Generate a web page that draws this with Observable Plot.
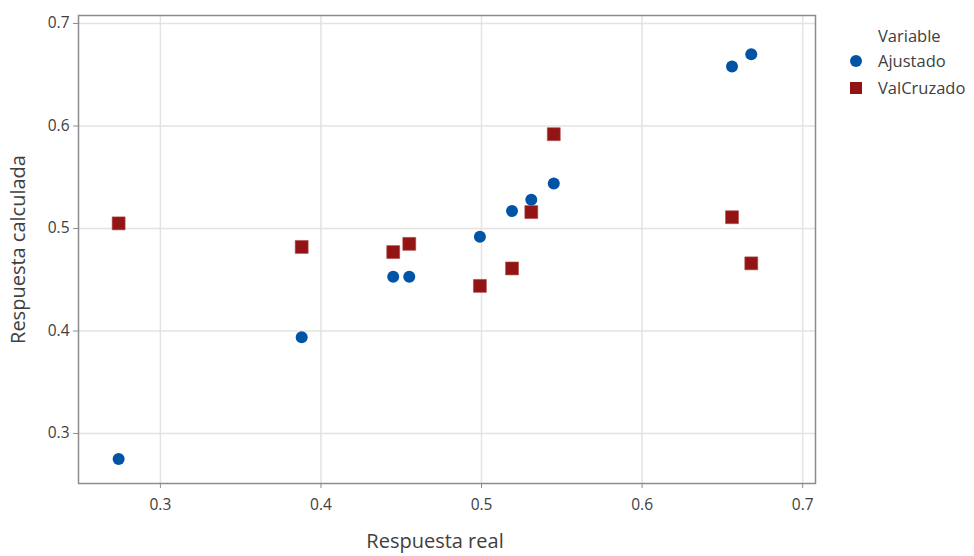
<!DOCTYPE html>
<html>
<head>
<meta charset="utf-8">
<script src="https://cdn.jsdelivr.net/npm/d3@7"></script>
<script src="https://cdn.jsdelivr.net/npm/@observablehq/plot@0.6"></script>
<style>
  html, body { margin: 0; padding: 0; background: #fff; }
  #wrap { position: relative; width: 974px; height: 556px; font-family: "Open Sans", "Noto Sans", sans-serif; }
  #legend { position: absolute; left: 848px; top: 25px; font-size: 16.5px; color: #404040; }
  #legend .row { display: flex; align-items: center; height: 27px; }
  #legend .title { padding-left: 30px; height: 22px; line-height: 22px; }
  #legend svg { width: 30px; height: 20px; }
</style>
</head>
<body>
<div id="wrap"></div>
<script>
const variables = ["Ajustado", "ValCruzado"];
const colors = ["#0054a6", "#931414"];
const symbols = ["circle", "square"];
const respuestaReal = [0.274, 0.388, 0.445, 0.455, 0.499, 0.519, 0.531, 0.545, 0.656, 0.668];
const ajustado      = [0.275, 0.394, 0.453, 0.453, 0.492, 0.517, 0.528, 0.544, 0.658, 0.670];
const valCruzado    = [0.505, 0.482, 0.477, 0.485, 0.444, 0.461, 0.516, 0.592, 0.511, 0.466];
const xTicks = [0.3, 0.4, 0.5, 0.6, 0.7];
const yTicks = [0.3, 0.4, 0.5, 0.6, 0.7];

const data = [];
respuestaReal.forEach((x, i) => {
  data.push({x, y: ajustado[i], v: variables[0]});
  data.push({x, y: valCruzado[i], v: variables[1]});
});

const chart = Plot.plot({
  width: 974,
  height: 556,
  marginLeft: 78,
  marginRight: 159,
  marginTop: 15,
  marginBottom: 73,
  style: {fontFamily: '"Open Sans", "Noto Sans", sans-serif', fontSize: "15.5px", color: "#404040", background: "#fff"},
  x: {domain: [0.249, 0.708]},
  y: {domain: [0.2512, 0.7078]},
  marks: [
    Plot.gridX(xTicks, {stroke: "#e3e3e3", strokeOpacity: 1, strokeWidth: 1.5}),
    Plot.gridY(yTicks, {stroke: "#e3e3e3", strokeOpacity: 1, strokeWidth: 1.5}),
    Plot.frame({stroke: "#8c8c8c", strokeWidth: 1.5}),
    Plot.axisX(xTicks, {tickSize: 5, tickPadding: 10, tickFormat: d3.format(".1f"), stroke: "#8c8c8c", fontSize: 15.5,
      label: "Respuesta real", labelAnchor: "center", labelOffset: 64, labelArrow: "none"}),
    Plot.axisY(yTicks, {tickSize: 5, tickPadding: 4, tickFormat: d3.format(".1f"), stroke: "#8c8c8c", fontSize: 15.5,
      label: "Respuesta calculada", labelAnchor: "center", labelOffset: 68, labelArrow: "none"}),
    Plot.dot(data.filter(d => d.v === variables[0]), {x: "x", y: "y", symbol: () => symbols[0], r: 6, fill: colors[0]}),
    Plot.dot(data.filter(d => d.v === variables[1]), {x: "x", y: "y", symbol: () => symbols[1], r: 7.3, fill: colors[1], stroke: "#b04848", strokeWidth: 0.6})
  ]
});
chart.querySelectorAll('[aria-label="x-axis label"] text, [aria-label="y-axis label"] text').forEach(t => {
  t.setAttribute("font-size", "20px");
  t.style.fontSize = "20px";
});
const xl = chart.querySelector('[aria-label="x-axis label"]');
if (xl) {
  const tr = xl.getAttribute("transform") || "";
  xl.setAttribute("transform", (tr + " translate(-12,0)").trim());
}
document.getElementById("wrap").appendChild(chart);

const legend = document.createElement("div");
legend.id = "legend";
let html = `<div class="title">Variable</div>`;
variables.forEach((v, i) => {
  const shape = symbols[i] === "circle"
    ? `<circle cx="8" cy="10" r="6" fill="${colors[i]}"/>`
    : `<rect x="2" y="4" width="12" height="12" fill="${colors[i]}"/>`;
  html += `<div class="row"><svg>${shape}</svg><span>${v}</span></div>`;
});
legend.innerHTML = html;
document.getElementById("wrap").appendChild(legend);
</script>
</body>
</html>
